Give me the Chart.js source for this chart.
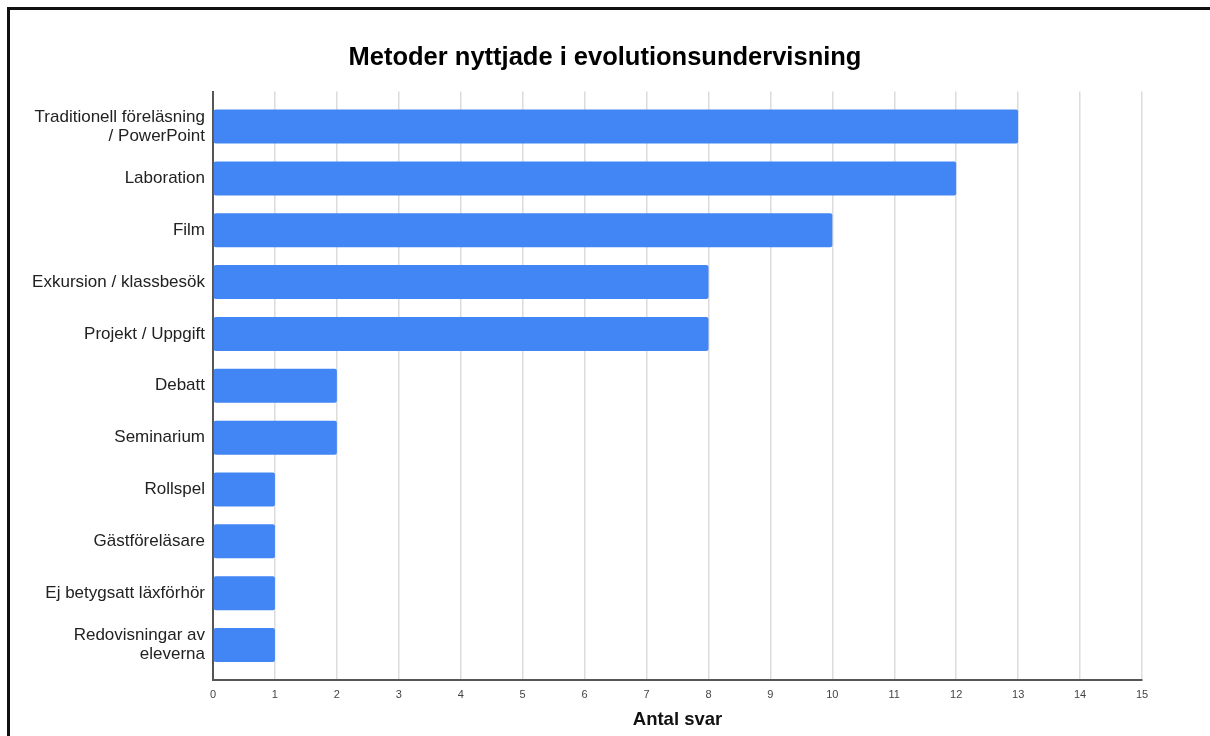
<!DOCTYPE html>
<html>
<head>
<meta charset="utf-8">
<script src="https://cdn.jsdelivr.net/npm/chart.js@4/dist/chart.umd.min.js"></script>
<style>
  html, body { margin:0; padding:0; background:#fff; }
  #wrap { position:relative; width:1210px; height:736px; overflow:hidden; }
  #frame { position:absolute; left:7px; top:7px; width:1220px; height:750px; border-top:3px solid #111; border-left:3px solid #111; box-sizing:border-box; pointer-events:none; }
  canvas { position:absolute; left:0; top:0; }
</style>
</head>
<body>
<div id="wrap">
  <canvas id="chart" width="1210" height="736"></canvas>
  <div id="frame"></div>
</div>
<script>
// data
const categories = [
  ["Traditionell föreläsning", "/ PowerPoint"],
  "Laboration",
  "Film",
  "Exkursion / klassbesök",
  "Projekt / Uppgift",
  "Debatt",
  "Seminarium",
  "Rollspel",
  "Gästföreläsare",
  "Ej betygsatt läxförhör",
  ["Redovisningar av", "eleverna"]
];
const answers = [13, 12, 10, 8, 8, 2, 2, 1, 1, 1, 1];
const xTicks = [0, 1, 2, 3, 4, 5, 6, 7, 8, 9, 10, 11, 12, 13, 14, 15];

const chartTitle = "Metoder nyttjade i evolutionsundervisning";
const xTitle = "Antal svar";

const font = "'Liberation Sans', Arial, sans-serif";
// extra empty space above first / below last category, in bands
const catPad = 0.174;

const ctx = document.getElementById("chart").getContext("2d");
const chart = new Chart(ctx, {
  type: "bar",
  data: {
    labels: categories,
    datasets: [{
      label: xTitle,
      data: answers,
      backgroundColor: "#4285f4",
      borderWidth: 0,
      borderRadius: 2,
      borderSkipped: false,
      barPercentage: 0.656,
      categoryPercentage: 1
    }]
  },
  options: {
    indexAxis: "y",
    responsive: false,
    animation: false,
    layout: { padding: 0 },
    plugins: {
      legend: { display: false },
      tooltip: { enabled: false },
      title: {
        display: true,
        text: chartTitle,
        color: "#000",
        font: { family: font, size: 25.5, weight: "bold", lineHeight: 1.2 },
        padding: { top: 43, bottom: 18 }
      }
    },
    scales: {
      x: {
        min: 0, max: 15,
        afterBuildTicks: (s) => { s.ticks = xTicks.map(v => ({ value: v })); },
        afterFit: (s) => { s.height = 56; },
        grid: { color: "#dcdcdc", lineWidth: 1.5, drawTicks: false },
        border: { color: "#555", width: 2 },
        ticks: { color: "#444", font: { family: font, size: 11 }, padding: 8, maxRotation: 0 },
        title: {
          display: true, text: xTitle, color: "#111",
          font: { family: font, size: 18.5, weight: "bold", lineHeight: 1.2 },
          padding: { top: 4, bottom: 5 }
        }
      },
      y: {
        afterFit: (s) => { s.width = 213; },
        afterBuildTicks: (s) => {
          s._startValue = -0.5 - catPad;
          s._valueRange = categories.length + 2 * catPad;
        },
        grid: { display: false, drawTicks: false },
        border: { color: "#555", width: 2 },
        ticks: { color: "#222", font: { family: font, size: 17, lineHeight: 1.12 }, padding: 8 }
      },
      // empty right-hand axis: only reserves the white margin right of the plot
      yRight: {
        type: "category",
        position: "right",
        afterFit: (s) => { s.width = 68; },
        grid: { display: false, drawTicks: false },
        border: { display: false },
        ticks: { display: false }
      }
    }
  }
});
</script>
</body>
</html>
